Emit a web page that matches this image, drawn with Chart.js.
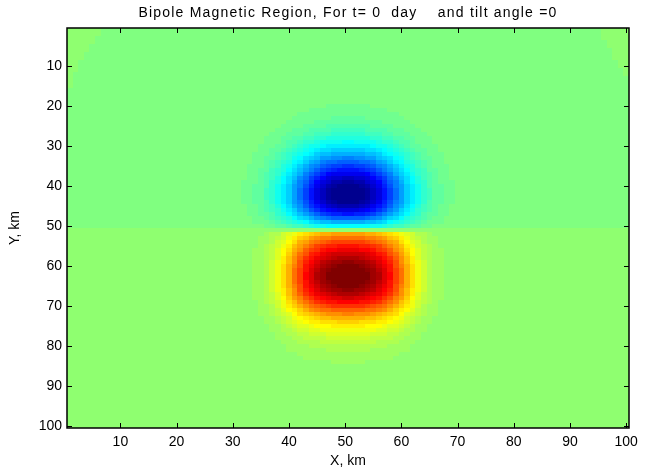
<!DOCTYPE html>
<html>
<head>
<meta charset="utf-8">
<title>Bipole Magnetic Region</title>
<script src="https://cdn.jsdelivr.net/npm/chart.js@4.4.1/dist/chart.umd.min.js"></script>
<style>
  html, body { margin: 0; padding: 0; background: #fff; }
</style>
</head>
<body>
<canvas id="bmr" width="648" height="474"></canvas>
<script>
// 100 x 100 grid, X and Y in km
const xTicks = [10, 20, 30, 40, 50, 60, 70, 80, 90, 100];
const yTicks = [10, 20, 30, 40, 50, 60, 70, 80, 90, 100];

// signed field level down the centre column, rows y = 1..100
const rowLevel = [
  0, 0, 0, 0, 0, 0, 0, 0, 0, 0, 0, 0, 0, 0, 0, 0, 0,
  -0.012, -0.017, -0.023, -0.031, -0.042, -0.056, -0.073, -0.096, -0.123, -0.156,
  -0.195, -0.242, -0.294, -0.354, -0.420, -0.492, -0.567, -0.647, -0.725, -0.801,
  -0.871, -0.931, -0.978, -1.009, -1.020, -1.009, -0.972, -0.911, -0.823, -0.712,
  -0.578, -0.427, -0.262,
  0.02, 0.42, 0.52, 0.61, 0.69, 0.76, 0.83, 0.88, 0.93, 0.97,
  1.00, 1.02, 1.02, 1.00, 0.97, 0.93, 0.88, 0.81, 0.73, 0.64,
  0.55, 0.46, 0.38, 0.31, 0.25, 0.20, 0.16, 0.125, 0.097, 0.074,
  0.056, 0.042, 0.031, 0.022, 0.015, 0.010, 0.006, 0.003,
  0, 0, 0, 0, 0, 0, 0, 0, 0, 0, 0, 0
];

// relative strength across columns x = 1..100 for the negative (upper) lobe
const colNeg = [
  0, 0, 0, 0, 0, 0, 0, 0, 0, 0, 0, 0, 0, 0, 0, 0, 0, 0, 0, 0, 0, 0, 0, 0, 0, 0, 0, 0,
  0.004, 0.008, 0.014, 0.023, 0.036, 0.055, 0.080, 0.115, 0.160, 0.215, 0.280,
  0.355, 0.440, 0.530, 0.625, 0.715, 0.800, 0.870, 0.925, 0.966, 0.990, 0.999,
  0.999, 0.990, 0.966, 0.925, 0.870, 0.800, 0.715, 0.625, 0.530, 0.440, 0.355,
  0.280, 0.215, 0.160, 0.115, 0.080, 0.055, 0.036, 0.023, 0.014, 0.008, 0.004,
  0, 0, 0, 0, 0, 0, 0, 0, 0, 0, 0, 0, 0, 0, 0, 0, 0, 0, 0, 0, 0, 0, 0, 0, 0, 0, 0, 0
];

// and for the positive (lower) lobe
const colPos = [
  0, 0, 0, 0, 0, 0, 0, 0, 0, 0, 0, 0, 0, 0, 0, 0, 0, 0, 0, 0, 0, 0, 0, 0, 0, 0, 0, 0, 0, 0,
  0.003, 0.007, 0.015, 0.028, 0.05, 0.082, 0.13, 0.195, 0.28, 0.38,
  0.49, 0.60, 0.70, 0.78, 0.85, 0.90, 0.94, 0.97, 0.99, 1.00,
  1.00, 0.99, 0.97, 0.94, 0.90, 0.85, 0.78, 0.70, 0.60, 0.49,
  0.38, 0.28, 0.195, 0.13, 0.082, 0.05, 0.028, 0.015, 0.007, 0.003,
  0, 0, 0, 0, 0, 0, 0, 0, 0, 0, 0, 0, 0, 0, 0, 0, 0, 0, 0, 0, 0, 0, 0, 0, 0, 0, 0, 0, 0, 0
];

// background of each half, and the flat patches in the two top corners
const bgUpper = -0.01;
const bgLower = 0.01;
const bgCorner = 0.005;
const cornerLeft = [6, 6, 5, 5, 4, 4, 3, 3, 2, 2, 2, 1, 1, 1, 1];
const cornerRight = [5, 5, 5, 4, 4, 3, 3, 3, 2, 2, 1, 1];
const cLim = [-1, 1];

// MATLAB jet(64)
function jet64(k) {
  const u = i => (i < 1 || i > 47) ? 0 : i <= 16 ? i / 16 : i <= 31 ? 1 : (48 - i) / 16;
  const r = k >= 25 ? u(k - 24) : 0;
  const g = u(k - 8);
  const b = k <= 39 ? u(k + 8) : 0;
  return 'rgb(' + Math.round(r * 255) + ',' + Math.round(g * 255) + ',' + Math.round(b * 255) + ')';
}
const palette = [];
for (let k = 1; k <= 64; k++) palette.push(jet64(k));

function colourFor(v) {
  let idx = Math.floor((v - cLim[0]) / (cLim[1] - cLim[0]) * 64);
  idx = Math.max(0, Math.min(63, idx));
  return palette[idx];
}

const cells = [];
for (let r = 1; r <= 100; r++) {
  for (let c = 1; c <= 100; c++) {
    let base, w;
    if (r <= 50) {
      base = bgUpper;
      const cl = cornerLeft[r - 1] || 0, cr = cornerRight[r - 1] || 0;
      if (c <= cl || c > 100 - cr) base = bgCorner;
      w = colNeg[c - 1];
    } else {
      base = bgLower;
      w = colPos[c - 1];
    }
    cells.push({ x: c, y: r, v: base + rowLevel[r - 1] * w });
  }
}

// centre the title over the plot box, and space it out like the original
const titleFit = {
  id: 'titleFit',
  afterLayout(chart) {
    const tb = chart.titleBlock;
    if (!tb) return;
    tb.left = chart.chartArea.left;
    tb.right = chart.chartArea.right;
    tb.width = tb.right - tb.left;
    if (!tb._spaced) {
      const draw = tb.draw;
      tb.draw = function (area) {
        this.ctx.save();
        this.ctx.letterSpacing = '1.2px';
        draw.call(this, area);
        this.ctx.restore();
      };
      tb._spaced = true;
    }
  }
};

const heatmap = {
  id: 'heatmap',
  beforeDatasetsDraw(chart) {
    const { ctx, chartArea: a, scales: { x, y } } = chart;
    ctx.save();
    ctx.beginPath();
    ctx.rect(a.left, a.top, a.width, a.height);
    ctx.clip();
    chart.data.datasets[0].data.forEach(cell => {
      const x0 = Math.round(x.getPixelForValue(cell.x - 0.5));
      const x1 = Math.round(x.getPixelForValue(cell.x + 0.5));
      const y0 = Math.round(y.getPixelForValue(cell.y - 0.5));
      const y1 = Math.round(y.getPixelForValue(cell.y + 0.5));
      ctx.fillStyle = colourFor(cell.v);
      ctx.fillRect(Math.min(x0, x1), Math.min(y0, y1), Math.abs(x1 - x0), Math.abs(y1 - y0));
    });
    ctx.restore();
  }
};

// box with inward tick marks on all four sides
const frame = {
  id: 'frame',
  afterDraw(chart) {
    const { ctx, chartArea: a, scales: { x, y } } = chart;
    const len = 5;
    ctx.save();
    ctx.strokeStyle = '#000';
    ctx.lineWidth = 1.5;
    ctx.strokeRect(a.left, a.top, a.width, a.height);
    ctx.lineWidth = 1;
    ctx.beginPath();
    xTicks.forEach(v => {
      const px = Math.round(x.getPixelForValue(v)) + 0.5;
      ctx.moveTo(px, a.bottom); ctx.lineTo(px, a.bottom - len);
      ctx.moveTo(px, a.top); ctx.lineTo(px, a.top + len);
    });
    yTicks.forEach(v => {
      const py = Math.round(y.getPixelForValue(v)) + 0.5;
      ctx.moveTo(a.left, py); ctx.lineTo(a.left + len, py);
      ctx.moveTo(a.right, py); ctx.lineTo(a.right - len, py);
    });
    ctx.stroke();
    ctx.restore();
  }
};

Chart.defaults.font.family = '"Liberation Sans", Arial, Helvetica, sans-serif';
Chart.defaults.font.size = 14;
Chart.defaults.color = '#000';

new Chart(document.getElementById('bmr'), {
  type: 'scatter',
  data: {
    datasets: [{ data: cells, pointRadius: 0, pointHoverRadius: 0 }]
  },
  options: {
    responsive: false,
    animation: false,
    events: [],
    layout: { padding: { left: 0, right: 19, top: 0, bottom: 0 } },
    plugins: {
      legend: { display: false },
      tooltip: { enabled: false },
      title: {
        display: true,
        text: 'Bipole Magnetic Region, For t= 0  day    and tilt angle =0',
        font: { size: 14, weight: 'normal' },
        color: '#000',
        padding: { top: 4.6, bottom: 6.6 }
      }
    },
    scales: {
      x: {
        type: 'linear',
        position: 'bottom',
        min: 0.5,
        max: 100.5,
        afterBuildTicks: s => { s.ticks = xTicks.map(v => ({ value: v })); },
        afterFit: s => { s.height = 46; },
        grid: { display: false, drawTicks: false },
        border: { display: false },
        ticks: { padding: 6, maxRotation: 0, autoSkip: false },
        title: { display: true, text: 'X, km', padding: { top: 0, bottom: 4 } }
      },
      y: {
        type: 'linear',
        reverse: true,
        min: 0.5,
        max: 100.5,
        afterBuildTicks: s => { s.ticks = yTicks.map(v => ({ value: v })); },
        afterFit: s => { s.width = 67; },
        grid: { display: false, drawTicks: false },
        border: { display: false },
        ticks: { padding: 5, autoSkip: false },
        title: { display: true, text: 'Y, km', padding: { top: 7, bottom: 0 } }
      }
    }
  },
  plugins: [titleFit, heatmap, frame]
});
</script>
</body>
</html>
